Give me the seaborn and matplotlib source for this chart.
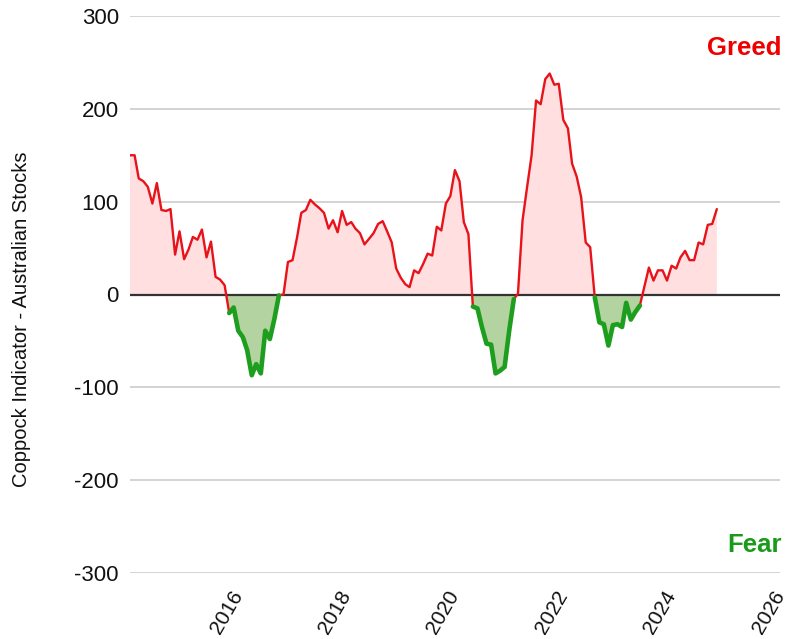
import numpy as np
import pandas as pd
import matplotlib
matplotlib.use("Agg")
import matplotlib.pyplot as plt
import seaborn as sns

# Monthly Coppock indicator values, starting January 2014
start_month = "2014-01"
values = [
    150, 150, 125, 122, 116, 98, 120, 91, 90, 92,
    43, 68, 38, 49, 62, 59, 70, 40, 57, 19,
    16, 10, -20, -14, -39, -46, -60, -87, -75, -85,
    -39, -48, -26, -1, 0, 35, 37, 62, 88, 91,
    102, 97, 93, 88, 71, 80, 67, 90, 75, 78,
    71, 66, 54, 60, 66, 76, 79, 68, 56, 28,
    18, 11, 8, 26, 23, 33, 44, 42, 73, 69,
    98, 106, 134, 122, 78, 65, -13, -15, -35, -53,
    -54, -85, -82, -78, -39, -5, 1, 80, 115, 150,
    209, 205, 232, 238, 226, 227, 188, 179, 141, 127,
    105, 56, 51, -3, -30, -32, -55, -33, -32, -35,
    -9, -27, -19, -12, 8, 29, 15, 26, 26, 15,
    31, 28, 40, 47, 37, 37, 56, 54, 75, 76, 92,
]
y_ticks = [-300, -200, -100, 0, 100, 200, 300]
x_tick_years = [2016, 2018, 2020, 2022, 2024, 2026]
y_label = "Coppock Indicator - Australian Stocks"
greed_label = "Greed"
fear_label = "Fear"

RED = "#e8121a"
GREEN = "#1e9e1e"
PINK_FILL = "#ffdfdf"
GREEN_FILL = "#b3d3a0"

dates = pd.date_range(start_month, periods=len(values), freq="MS")
df = pd.DataFrame({"date": dates, "value": values})

# negative runs (consecutive negative points) for the green line
neg = df[df["value"] < 0].copy()
idx = neg.index.to_numpy()
neg["run"] = np.cumsum(np.r_[1, np.diff(idx) != 1])

sns.set_theme(style="white")
plt.rcParams["font.family"] = ["Liberation Sans", "DejaVu Sans"]

fig = plt.figure(figsize=(7.94, 6.39), dpi=100)
ax = fig.add_axes([130 / 794, 1 - 573 / 639, 650 / 794, 557 / 639])

ax.fill_between(df["date"], df["value"], 0, where=df["value"] >= 0,
                interpolate=True, color=PINK_FILL, lw=0, zorder=1)
ax.fill_between(df["date"], df["value"], 0, where=df["value"] <= 0,
                interpolate=True, color=GREEN_FILL, lw=0, zorder=1)

for yt in y_ticks:
    ax.axhline(yt, color="#cccccc", lw=1.2, zorder=0)
ax.axhline(0, color="#333333", lw=1.6, zorder=3)

sns.lineplot(data=df, x="date", y="value", color=RED, lw=1.7, ax=ax, zorder=4)
sns.lineplot(data=neg, x="date", y="value", units="run", estimator=None,
             color=GREEN, lw=3.3, ax=ax, zorder=5)

ax.set_xlim(pd.Timestamp("2014-01-01"), pd.Timestamp("2026-01-01"))
ax.set_ylim(-300, 300)
ax.set_yticks(y_ticks)
ax.set_yticklabels([str(v) for v in y_ticks], fontsize=16)
ax.set_xticks([pd.Timestamp(f"{y}-01-01") for y in x_tick_years])
ax.set_xticklabels([str(y) for y in x_tick_years], fontsize=15,
                   rotation=60, ha="right", va="center", rotation_mode="anchor")
ax.tick_params(axis="both", length=0, colors="#111111")
ax.tick_params(axis="y", pad=8)
ax.tick_params(axis="x", pad=14)
ax.set_xlabel("")
ax.set_ylabel(y_label, fontsize=14.5, color="#111111",
              family=["Liberation Sans Narrow", "Liberation Sans", "DejaVu Sans"])
ax.yaxis.set_label_coords(-99 / 650, 0.455)
for s in ax.spines.values():
    s.set_visible(False)

ax.text(1.003, 0.942, greed_label, transform=ax.transAxes, ha="right", va="center",
        color="#ee0000", fontsize=18.5, fontweight="bold")
ax.text(1.003, 0.05, fear_label, transform=ax.transAxes, ha="right", va="center",
        color="#1a9a1a", fontsize=18.5, fontweight="bold")

fig.savefig("out.png", dpi=100)
